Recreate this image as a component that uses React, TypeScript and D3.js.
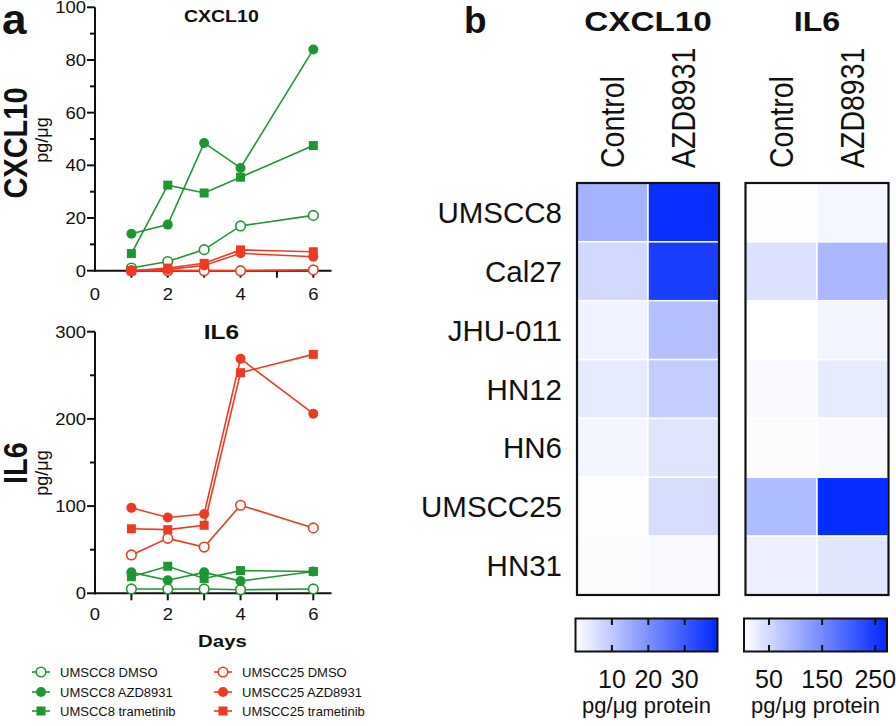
import React from "react";
import * as d3 from "d3";

// ---------- Data ----------
const days = [1, 2, 3, 4, 6];

const cxclUmscc8Dmso = [1, 3.5, 8, 17, 21];
const cxclUmscc8Azd = [14, 17.5, 48.5, 39, 84];
const cxclUmscc8Tram = [6.5, 32.5, 29.5, 35.5, 47.5];
const cxclUmscc25Dmso = [0, 0, 0, 0, 0.3];
const cxclUmscc25Azd = [0, 0.5, 2, 6.6, 5.3];
const cxclUmscc25Tram = [0, 1, 2.8, 7.9, 7.2];

const il6Umscc8Dmso = [5, 5, 5, 4, 5];
const il6Umscc8Azd = [24, 15, 24, 14, 25];
const il6Umscc8Tram = [19, 31, 17, 26, 25];
const il6Umscc25Dmso = [44, 63, 53, 101, 75];
const il6Umscc25Azd = [98, 87, 91, 269, 206];
const il6Umscc25Tram = [74, 73, 78, 253, 274];

const seriesNames = [
  "UMSCC8 DMSO",
  "UMSCC8 AZD8931",
  "UMSCC8 trametinib",
  "UMSCC25 DMSO",
  "UMSCC25 AZD8931",
  "UMSCC25 trametinib",
];
const seriesShapes = ["open", "circle", "square", "open", "circle", "square"];
const seriesColors = ["#1e9632", "#1e9632", "#1e9632", "#ee3a22", "#ee3a22", "#ee3a22"];

const cellLines = ["UMSCC8", "Cal27", "JHU-011", "HN12", "HN6", "UMSCC25", "HN31"];
const treatments = ["Control", "AZD8931"];
const cxclControl = [13.8, 6.9, 2.3, 3.8, 1.8, 0.2, 0.5];
const cxclAzd = [37.8, 35, 11.5, 9.2, 4.6, 6.1, 1];
const il6Control = [2, 37, 0, 7.5, 3.2, 85, 20];
const il6Azd = [10.7, 90, 13.9, 26.7, 6.4, 266, 31];

const cxclTopTicks = [0, 20, 40, 60, 80, 100];
const il6Ticks = [0, 100, 200, 300];
const dayTicks = [0, 2, 4, 6];
const cxclBarTicks = [10, 20, 30];
const il6BarTicks = [50, 150, 250];

// ---------- helpers ----------
const FONT = "'Liberation Sans', Arial, Helvetica, sans-serif";

function T({ x, y, size, weight = "normal", anchor = "start", sx = 1, sy = 1, rot = 0, children, fill = "#111" }: any) {
  return (
    <text
      transform={`translate(${x},${y}) rotate(${rot}) scale(${sx},${sy})`}
      fontSize={size}
      fontWeight={weight}
      textAnchor={anchor}
      fontFamily={FONT}
      fill={fill}
    >
      {children}
    </text>
  );
}

function Marker({ shape, color, x, y }: any) {
  if (shape === "square") return <rect x={x - 4.5} y={y - 4.5} width={9} height={9} fill={color} />;
  if (shape === "circle") return <circle cx={x} cy={y} r={5} fill={color} />;
  return <circle cx={x} cy={y} r={4.8} fill="#fff" stroke={color} strokeWidth={1.6} />;
}

function LineChart({ top, bottom, yMax, majorTicks, minorStep, series, title, titleSize, titleY, label, labelY, unitY, xLabelY }: any) {
  const x = d3.scaleLinear().domain([0, 6.5]).range([95, 331.5]);
  const y = d3.scaleLinear().domain([0, yMax]).range([bottom, top]);
  const line = d3.line<number>().x((_, i) => x(days[i])).y((v) => y(v));
  const minor = d3.range(minorStep, yMax, minorStep * 2);
  const xt = d3.range(1, 7);
  const order = [0, 1, 2, 3, 4, 5];
  return (
    <g>
      <T x={x(3.5) - 1} y={titleY} size={titleSize} weight="bold" anchor="middle" sx={1.22}>{title}</T>
      <T x={27} y={labelY} size={29} weight="bold" anchor="middle" rot={-90} sy={1.12}>{label}</T>
      <T x={48} y={unitY} size={18} anchor="middle" rot={-90}>pg/μg</T>
      {/* axes */}
      <line x1={x(0)} x2={x(0)} y1={y(0) + 1} y2={y(yMax)} stroke="#111" strokeWidth={2} />
      <line x1={x(0) - 1} x2={x(6.5)} y1={y(0)} y2={y(0)} stroke="#111" strokeWidth={2} />
      {majorTicks.map((t: number) => (
        <g key={"m" + t}>
          <line x1={x(0) - 8} x2={x(0)} y1={y(t)} y2={y(t)} stroke="#111" strokeWidth={2} />
          <T x={86} y={y(t) + 6} size={16.5} anchor="end" sx={1.12}>{t}</T>
        </g>
      ))}
      {minor.map((t: number) => (
        <line key={"n" + t} x1={x(0) - 5} x2={x(0)} y1={y(t)} y2={y(t)} stroke="#111" strokeWidth={2} />
      ))}
      {xt.map((t: number) => (
        <line key={"x" + t} x1={x(t)} x2={x(t)} y1={y(0)} y2={y(0) + 7} stroke="#111" strokeWidth={2} />
      ))}
      {dayTicks.map((t: number) => (
        <T key={"xl" + t} x={x(t)} y={xLabelY} size={16.5} anchor="middle" sx={1.12}>{t}</T>
      ))}
      {order.map((i) => (
        <path key={"l" + i} d={line(series[i]) || ""} fill="none" stroke={seriesColors[i]} strokeWidth={1.6} />
      ))}
      {order.map((i) =>
        series[i].map((v: number, j: number) => (
          <Marker key={`p${i}-${j}`} shape={seriesShapes[i]} color={seriesColors[i]} x={x(days[j])} y={y(v)} />
        ))
      )}
    </g>
  );
}

function Heatmap({ x0, x1, control, azd, max, title, titleSx, barDomain, barTicks }: any) {
  const color = d3.scaleLinear<string>().domain([0, max]).range(["#ffffff", "#0028ff"]).interpolate(d3.interpolateRgb);
  const col = d3.scaleBand().domain(treatments).range([x0, x1]);
  const row = d3.scaleBand().domain(cellLines).range([183, 595]);
  const vals = [control, azd];
  const bar = d3.scaleLinear().domain(barDomain).range([x0 - 1.5, x1 - 1.5]);
  const gid = "grad" + title;
  const bx0 = bar(barDomain[0]);
  const bx1 = bar(barDomain[1]);
  return (
    <g>
      <T x={(x0 + x1) / 2} y={30.5} size={28} weight="bold" anchor="middle" sx={titleSx}>{title}</T>
      {treatments.map((t) => (
        <T key={t} x={(col(t) || 0) + col.bandwidth() / 2 + 11.5} y={168} size={28.5} anchor="start" rot={-90} sy={1.15}>{t}</T>
      ))}
      {cellLines.map((c, ri) =>
        treatments.map((t, ci) => (
          <rect
            key={c + t}
            x={col(t)}
            y={row(c)}
            width={col.bandwidth()}
            height={row.bandwidth()}
            fill={color(vals[ci][ri])}
            stroke="#fff"
            strokeWidth={1.5}
          />
        ))
      )}
      <rect x={x0} y={183} width={x1 - x0} height={412} fill="none" stroke="#111" strokeWidth={2.2} />
      {/* colorbar */}
      <defs>
        <linearGradient id={gid} x1="0" x2="1" y1="0" y2="0">
          <stop offset="0" stopColor={color(0)} />
          <stop offset="1" stopColor={color(max)} />
        </linearGradient>
      </defs>
      <rect x={bx0} y={618.5} width={bx1 - bx0} height={33} fill={`url(#${gid})`} stroke="#111" strokeWidth={2} />
      {barTicks.map((t: number) => (
        <g key={t}>
          <line x1={bar(t)} x2={bar(t)} y1={619} y2={625} stroke="#111" strokeWidth={2} />
          <line x1={bar(t)} x2={bar(t)} y1={645} y2={651} stroke="#111" strokeWidth={2} />
          <T x={bar(t)} y={688} size={25} anchor="middle">{t}</T>
        </g>
      ))}
      <T x={(bx0 + bx1) / 2} y={713} size={22} anchor="middle">pg/μg protein</T>
    </g>
  );
}

export default function App() {
  const cxclSeries = [cxclUmscc8Dmso, cxclUmscc8Azd, cxclUmscc8Tram, cxclUmscc25Dmso, cxclUmscc25Azd, cxclUmscc25Tram];
  const il6Series = [il6Umscc8Dmso, il6Umscc8Azd, il6Umscc8Tram, il6Umscc25Dmso, il6Umscc25Azd, il6Umscc25Tram];
  const legendRows = [672, 692, 711];
  const legendCols = [41, 223];
  const rowScale = d3.scaleBand().domain(cellLines).range([183, 595]);
  return (
    <svg width={896} height={726} style={{ position: "absolute", left: 0, top: 0, background: "#fff" }}>
      <rect x={0} y={0} width={896} height={726} fill="#fff" />
      <T x={2} y={34} size={42} weight="bold" sx={1.05}>a</T>
      <T x={464} y={32.5} size={37} weight="bold">b</T>

      <LineChart
        top={7.3}
        bottom={270.7}
        yMax={100}
        majorTicks={cxclTopTicks}
        minorStep={10}
        series={cxclSeries}
        title="CXCL10"
        titleSize={16}
        titleY={21.7}
        label="CXCL10"
        labelY={143}
        unitY={140}
        xLabelY={300}
      />
      <LineChart
        top={331.7}
        bottom={593.3}
        yMax={300}
        majorTicks={il6Ticks}
        minorStep={50}
        series={il6Series}
        title="IL6"
        titleSize={20}
        titleY={338.5}
        label="IL6"
        labelY={463}
        unitY={473}
        xLabelY={620}
      />
      <T x={222.5} y={647} size={17} weight="bold" anchor="middle" sx={1.2}>Days</T>

      {seriesNames.map((name, i) => {
        const cx = legendCols[Math.floor(i / 3)];
        const cy = legendRows[i % 3];
        return (
          <g key={name}>
            <line x1={cx - 9} x2={cx + 9} y1={cy} y2={cy} stroke={seriesColors[i]} strokeWidth={1.6} />
            <Marker shape={seriesShapes[i]} color={seriesColors[i]} x={cx} y={cy} />
            <T x={cx + 19} y={cy + 5} size={13}>{name}</T>
          </g>
        );
      })}

      <Heatmap x0={577} x1={719} control={cxclControl} azd={cxclAzd} max={39} title="CXCL10" titleSx={1.19} barDomain={[0, 39]} barTicks={cxclBarTicks} />
      <Heatmap x0={745.5} x1={888.5} control={il6Control} azd={il6Azd} max={272} title="IL6" titleSx={1.15} barDomain={[3, 272]} barTicks={il6BarTicks} />

      {cellLines.map((c) => (
        <T key={c} x={562} y={(rowScale(c) || 0) + rowScale.bandwidth() / 2 + 10.5} size={29.5} anchor="end">{c}</T>
      ))}
    </svg>
  );
}
